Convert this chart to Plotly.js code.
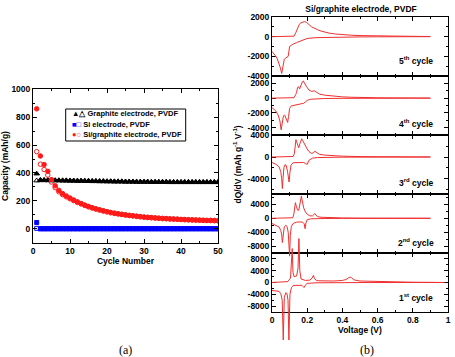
<!DOCTYPE html>
<html><head><meta charset="utf-8">
<script src="https://cdn.plot.ly/plotly-3.0.1.min.js"></script>
<style>html,body{margin:0;padding:0;background:#fff}#chart{width:455px;height:357px}</style>
</head><body><div id="chart"></div>
<script>
// ---------- Panel (a) data ----------
const cycleNo = [1,2,3,4,5,6,7,8,9,10,11,12,13,14,15,16,17,18,19,20,21,22,23,24,25,26,27,28,29,30,31,32,33,34,35,36,37,38,39,40,41,42,43,44,45,46,47,48,49,50];
const graphiteFilled = [395,350,350,349,349,348,348,347,347,346,346,345,345,344,344,343,343,342,342,341,341,340,340,340,339,339,339,338,338,338,338,337,337,337,337,337,336,336,336,336,336,336,336,336,336,336,336,336,336,336];
const graphiteOpen   = [345,347,347,346,346,345,345,344,344,343,343,342,342,341,341,340,340,339,339,338,338,337,337,337,336,336,336,335,335,335,335,334,334,334,334,334,333,333,333,333,333,333,333,333,333,333,333,333,333,333];
const siFilled = [45,0,0,0,0,0,0,0,0,0,0,0,0,0,0,0,0,0,0,0,0,0,0,0,0,0,0,0,0,0,0,0,0,0,0,0,0,0,0,0,0,0,0,0,0,0,0,0,0,0];
const siOpen   = [3,0,0,0,0,0,0,0,0,0,0,0,0,0,0,0,0,0,0,0,0,0,0,0,0,0,0,0,0,0,0,0,0,0,0,0,0,0,0,0,0,0,0,0,0,0,0,0,0,0];
const sigFilled = [860,522,460,412,352,308,275,252,235,220,206,193,181,170,160,151,143,136,129,123,117,112,108,104,100,96,93,90,87,84,82,80,78,76,74,73,71,70,69,67,66,65,64,63,62,61,60,60,59,58];
const sigOpen   = [553,463,425,385,335,295,265,245,229,215,202,189,178,167,157,149,141,134,127,121,115,110,106,102,98,95,92,89,86,83,81,79,77,75,73,72,70,69,68,66,65,64,63,62,61,60,59,59,58,57];
const legendNames = ['Graphite electrode, PVDF','Si electrode, PVDF','Si/graphite electrode, PVDF'];

// ---------- Panel (b) data: dQ/dV vs voltage ----------
const c5ChgV = [0,0.05,0.1,0.125,0.135,0.145,0.155,0.165,0.175,0.184,0.195,0.205,0.215,0.225,0.235,0.245,0.26,0.28,0.3,0.33,0.36,0.4,0.45,0.5,0.6,0.7,0.8,0.9];
const c5ChgQ = [0,0,10,50,400,900,1250,1420,1500,1520,1470,1350,1150,1000,900,860,700,560,450,340,270,200,150,110,70,40,20,10];
const c5DisV = [0,0.01,0.02,0.03,0.04,0.048,0.055,0.06,0.065,0.07,0.075,0.08,0.085,0.092,0.1,0.11,0.12,0.14,0.16,0.18,0.2,0.25,0.3,0.4,0.5,0.6,0.7,0.8,0.9];
const c5DisQ = [-1500,-1700,-1950,-2250,-2700,-3200,-3750,-3200,-2600,-2300,-2200,-2150,-2150,-2000,-1000,-850,-750,-600,-450,-300,-180,-100,-70,-40,-25,-15,-10,-5,0];

const c4ChgV = [0,0.05,0.1,0.125,0.135,0.14,0.145,0.15,0.157,0.165,0.172,0.178,0.185,0.195,0.21,0.225,0.24,0.255,0.27,0.3,0.33,0.36,0.4,0.45,0.5,0.6,0.7,0.8,0.9];
const c4ChgQ = [0,0,10,60,500,800,1400,1560,1250,1800,2200,2320,2000,1600,1100,900,1000,750,550,400,300,230,170,120,80,50,30,15,5];
const c4DisV = [0,0.02,0.035,0.045,0.052,0.058,0.065,0.072,0.08,0.085,0.089,0.094,0.1,0.11,0.13,0.15,0.17,0.18,0.19,0.2,0.22,0.25,0.3,0.4,0.5,0.6,0.7,0.8,0.9];
const c4DisQ = [-1300,-1700,-2300,-3100,-4300,-3300,-2400,-2300,-2700,-3100,-3300,-2500,-1400,-1050,-950,-900,-800,-700,-500,-300,-150,-80,-50,-30,-20,-10,-5,0,0];

const c3ChgV = [0,0.05,0.1,0.12,0.127,0.132,0.136,0.14,0.146,0.152,0.158,0.164,0.169,0.175,0.185,0.197,0.21,0.225,0.235,0.244,0.255,0.27,0.3,0.34,0.4,0.5,0.6,0.7,0.8,0.9];
const c3ChgQ = [0,0,20,100,600,2200,3200,2800,2000,1700,2400,3100,3350,3000,2300,1650,1000,650,800,1050,800,500,350,250,160,80,50,30,15,5];
const c3DisV = [0,0.02,0.04,0.05,0.055,0.059,0.063,0.068,0.074,0.08,0.088,0.093,0.097,0.102,0.108,0.12,0.14,0.16,0.18,0.19,0.2,0.21,0.23,0.26,0.3,0.4,0.5,0.6,0.7,0.8,0.9];
const c3DisQ = [-1000,-1300,-1800,-2700,-4000,-5800,-3800,-1900,-1400,-1500,-2600,-4000,-4600,-2800,-1500,-1050,-1000,-950,-1000,-1200,-1350,-600,-200,-100,-60,-30,-20,-10,-5,0,0];

const c2ChgV = [0,0.05,0.1,0.118,0.124,0.129,0.133,0.138,0.145,0.152,0.158,0.163,0.167,0.172,0.18,0.19,0.2,0.215,0.23,0.238,0.244,0.25,0.26,0.28,0.32,0.4,0.5,0.6,0.7,0.8,0.9];
const c2ChgQ = [0,0,20,150,1200,3500,4500,3500,2400,2300,3800,5600,6400,5000,3000,1800,1200,700,700,1100,1330,900,450,300,180,100,50,30,15,5,0];
const c2DisV = [0,0.02,0.04,0.05,0.055,0.059,0.063,0.07,0.078,0.085,0.092,0.096,0.1,0.104,0.11,0.12,0.14,0.16,0.175,0.183,0.188,0.193,0.2,0.22,0.25,0.3,0.4,0.5,0.6,0.7,0.8,0.9];
const c2DisQ = [-1500,-1900,-2500,-3500,-4800,-7000,-4500,-2400,-2000,-2300,-4000,-7500,-10900,-5000,-2300,-1500,-1100,-1050,-1150,-1600,-3000,-1300,-400,-150,-80,-50,-30,-20,-10,-5,0,0];

const c1ChgV = [0,0.05,0.09,0.105,0.111,0.115,0.119,0.125,0.14,0.148,0.153,0.158,0.165,0.19,0.215,0.228,0.235,0.242,0.255,0.3,0.35,0.4,0.42,0.435,0.443,0.452,0.465,0.5,0.6,0.7,0.8,0.9,0.98];
const c1ChgQ = [0,100,300,1500,6000,11500,3500,2000,2200,5000,14900,4000,1200,700,800,1500,2400,1300,600,500,500,700,1000,1600,1850,1600,900,500,300,200,100,50,0];
const c1DisV = [0,0.02,0.04,0.05,0.058,0.064,0.07,0.078,0.085,0.091,0.096,0.102,0.11,0.12,0.15,0.17,0.177,0.182,0.188,0.2,0.25,0.3,0.5,0.7,0.98];
const c1DisQ = [-2700,-2800,-3000,-3800,-6000,-19500,-5000,-3500,-3700,-6000,-19500,-4000,-1800,-1000,-900,-950,-1400,-1700,-1000,-300,-100,-50,-20,0,0];

const cycleLabels = ['5<sup>th</sup> cycle','4<sup>th</sup> cycle','3<sup>rd</sup> cycle','2<sup>nd</sup> cycle','1<sup>st</sup> cycle'];
const cycleData = [[c5ChgV,c5ChgQ,c5DisV,c5DisQ],[c4ChgV,c4ChgQ,c4DisV,c4DisQ],[c3ChgV,c3ChgQ,c3DisV,c3DisQ],[c2ChgV,c2ChgQ,c2DisV,c2DisQ],[c1ChgV,c1ChgQ,c1DisV,c1DisQ]];
// tick labels of the five dQ/dV panels (top to bottom)
const yTickVals5 = [2000,0,-2000,-4000];
const yTickVals4 = [2000,0,-2000,-4000];
const yTickVals3 = [4000,0,-4000];
const yTickVals2 = [4000,0,-4000,-8000];
const yTickVals1 = [8000,4000,0,-4000,-8000];
const yTickSets = [yTickVals5,yTickVals4,yTickVals3,yTickVals2,yTickVals1];
const yMinorSteps = [1000,1000,2000,2000,2000];

// ---------- layout helpers ----------
const W = 455, H = 357;
const FAM = 'Liberation Sans, Arial, sans-serif';
const px = p => p / W;
const py = p => 1 - p / H;
const RED = '#ff1a1a', BLUE = '#0000ff', BLACK = '#000000', LRED = '#f03030';

const axBase = {showline:true, linecolor:'#000', linewidth:1, mirror:'ticks', ticks:'inside', ticklen:4, tickcolor:'#000',
  showgrid:false, zeroline:false, tickfont:{family:FAM, size:8.5, weight:'bold', color:'#000'}};

const traces = [];
function mk(y, sym, col, size, name){
  return {x:cycleNo, y:y, xaxis:'x', yaxis:'y', mode:'markers', name:name, showlegend:false,
    marker:{symbol:sym, color:col, size:size, line:{color:col, width:1}}};
}
traces.push(mk(graphiteOpen,'triangle-up-open',BLACK,5,legendNames[0]));
traces.push(mk(graphiteFilled,'triangle-up',BLACK,5,legendNames[0]));
traces.push(mk(siOpen,'square-open',BLUE,4,legendNames[1]));
traces.push(mk(siFilled,'square',BLUE,4,legendNames[1]));
traces.push(mk(sigOpen,'circle-open',RED,4.5,legendNames[2]));
traces.push(mk(sigFilled,'circle',RED,4.5,legendNames[2]));

const layout = {
  width:W, height:H, margin:{l:0,r:0,t:0,b:0}, paper_bgcolor:'#fff', plot_bgcolor:'rgba(0,0,0,0)',
  font:{family:FAM, size:8.5, color:'#000', weight:'bold'}, showlegend:false,
  title:{text:'Si/graphite electrode, PVDF', x:px(361), xanchor:'center', y:py(9), yanchor:'middle', font:{family:FAM,size:8.5,weight:'bold',color:'#000'}},
  xaxis:Object.assign({}, axBase, {domain:[px(33),px(218)], range:[0,50], dtick:10, tick0:0, anchor:'y',
    minor:{dtick:5, ticks:'inside', ticklen:2, tickcolor:'#000'},
    title:{text:'Cycle Number', standoff:3, font:{family:FAM,size:8.5,weight:'bold'}}}),
  yaxis:Object.assign({}, axBase, {domain:[py(242.7),py(89.3)], range:[-100,1000], dtick:200, tick0:0, anchor:'x',
    minor:{dtick:100, ticks:'inside', ticklen:2, tickcolor:'#000'},
    title:{text:'Capacity (mAh/g)', standoff:2, font:{family:FAM,size:8.5,weight:'bold'}}}),
  annotations:[], shapes:[]
};

// legend box (a)
layout.shapes.push({type:'rect', xref:'paper', yref:'paper', x0:px(65.7), x1:px(185.7), y0:py(141), y1:py(109), line:{color:'#000',width:1}, fillcolor:'#fff', layer:'above'});
const legSyms = [['▲△',BLACK],['■□',BLUE],['●○',RED]];
legendNames.forEach((n,i)=>{
  layout.annotations.push({xref:'paper', yref:'paper', x:px(70), y:py(114+10*i), xanchor:'left', yanchor:'middle', showarrow:false,
    text:'<span style="color:'+legSyms[i][1]+'">'+legSyms[i][0]+'</span> '+n, font:{family:FAM, size:7.5, weight:'bold', color:'#000'}});
});

// panel (b): five framed panels (x2..x6 / y2..y6),
// curves drawn on invisible overlay axes (x7..x11 / y7..y11) with identical scale so tall peaks can overshoot the frames
const tops = [17,76,135,194,253], bots = [76,135,194,253,312];
const ranges = [[-4000,2000],[-5000,3000],[-6800,4050],[-10000,7000],[-10000,10000]];
const labY = [60.5,123.3,182.3,242.3,297.7];
const OV_TOP = 0, OV_BOT = 340;
for (let i=0;i<5;i++){
  const k = i+2, ko = i+7;
  const d0 = py(bots[i]), d1 = py(tops[i]);
  const r = ranges[i];
  const s = (r[1]-r[0])/(d1-d0);
  const e0 = py(OV_BOT), e1 = py(OV_TOP);
  layout['xaxis'+k] = Object.assign({}, axBase, {domain:[px(272),px(448)], range:[0,1], dtick:0.2, tick0:0, anchor:'y'+k,
    minor:{dtick:0.1, ticks:'inside', ticklen:2, tickcolor:'#000'}, showticklabels:(i===4)});
  if (i===4) layout['xaxis'+k].title = {text:'Voltage (V)', standoff:1, font:{family:FAM,size:8.5,weight:'bold'}};
  const tv = yTickSets[i];
  layout['yaxis'+k] = Object.assign({}, axBase, {domain:[d0,d1], range:r, tickmode:'array', tickvals:tv, ticktext:tv.map(String), anchor:'x'+k,
    minor:{dtick:yMinorSteps[i], tick0:0, ticks:'inside', ticklen:2, tickcolor:'#000'}});
  if (i===2) layout['yaxis'+k].title = {text:'dQ/dV (mAh g<sup>-1</sup> V<sup>-1</sup>)', standoff:4, font:{family:FAM,size:8.5,weight:'bold'}};
  layout['xaxis'+ko] = {domain:[px(272),px(448)], range:[0,1], anchor:'y'+ko, visible:false, showgrid:false, zeroline:false};
  layout['yaxis'+ko] = {domain:[e0,e1], range:[r[0]-(d0-e0)*s, r[1]+(e1-d1)*s], anchor:'x'+ko, visible:false, showgrid:false, zeroline:false};
  // empty trace so the framed panel subplot exists
  traces.push({x:[], y:[], xaxis:'x'+k, yaxis:'y'+k, mode:'lines', showlegend:false, hoverinfo:'skip'});
  const cd = cycleData[i];
  traces.push({x:cd[0], y:cd[1], xaxis:'x'+ko, yaxis:'y'+ko, mode:'lines', line:{color:LRED,width:1}, showlegend:false, name:'charge'});
  traces.push({x:cd[2], y:cd[3], xaxis:'x'+ko, yaxis:'y'+ko, mode:'lines', line:{color:LRED,width:1}, showlegend:false, name:'discharge'});
  layout.annotations.push({xref:'paper', yref:'paper', x:px(416), y:py(labY[i]), xanchor:'center', yanchor:'middle', showarrow:false,
    text:cycleLabels[i], font:{family:FAM,size:8.5,weight:'bold',color:'#000'}});
}
layout.annotations.push({xref:'paper', yref:'paper', x:px(125), y:py(350), xanchor:'center', yanchor:'middle', showarrow:false,
  text:'(a)', font:{family:'Liberation Serif, Times New Roman, serif', size:12, weight:'normal', color:'#000'}});
layout.annotations.push({xref:'paper', yref:'paper', x:px(367), y:py(350), xanchor:'center', yanchor:'middle', showarrow:false,
  text:'(b)', font:{family:'Liberation Serif, Times New Roman, serif', size:12, weight:'normal', color:'#000'}});

Plotly.newPlot('chart', traces, layout, {staticPlot:true, displayModeBar:false});
</script>
</body></html>
